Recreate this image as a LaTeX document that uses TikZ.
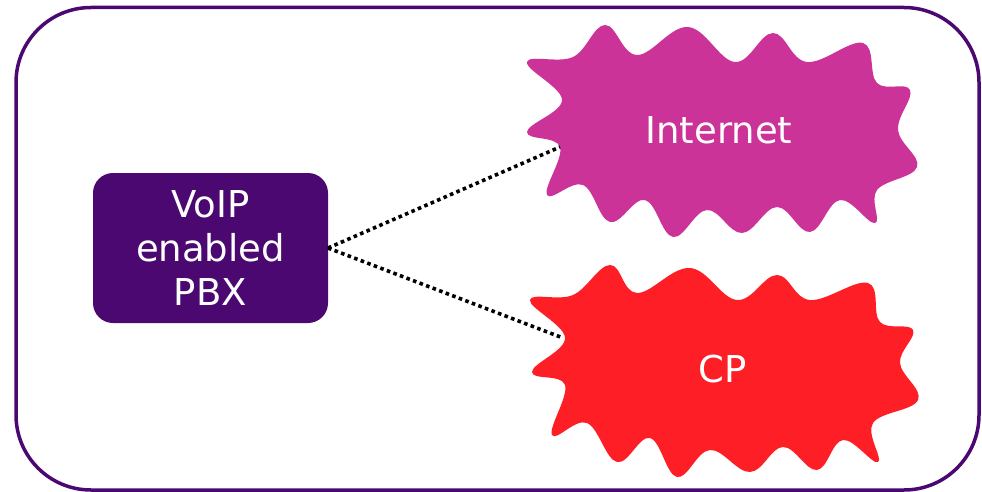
\documentclass[tikz,border=0pt]{standalone}
\usepackage{fontspec}
\setmainfont{DejaVu Sans}
\definecolor{pbxpurple}{RGB}{75,8,112}
\definecolor{netmagenta}{RGB}{204,51,153}
\definecolor{cpred}{RGB}{253,30,38}
\tikzset{
  frame/.style={draw=pbxpurple, line width=3.5pt, rounded corners=75pt},
  pbxbox/.style={fill=pbxpurple, rounded corners=20pt},
  label/.style={text=white, font=\fontsize{37}{44}\selectfont, align=center, inner sep=0pt},
  link/.style={draw=black, line width=3.6pt, dash pattern=on 3.6pt off 3.4pt}
}
\begin{document}
\begin{tikzpicture}[x=1pt,y=-1pt]
\useasboundingbox (0,0) rectangle (982,492);
\draw[frame] (16,7.5) rectangle (979,490);
% PBX box
\fill[pbxbox] (93,173) rectangle (328,323);
\node[label, anchor=center] (pbx) at (210.5,248) {VoIP\\enabled\\PBX};
\coordinate (pbxr) at (328,248);
% Internet cloud
\fill[netmagenta] plot[smooth cycle, tension=0.65] coordinates {
 (527,62) (562,100) (527,132) (560,147) (547,195) (583,185) (610,222) (645,200)
 (673,237) (707,210) (742,233) (777,207) (810,232) (840,200) (875,223) (877,190)
 (917,167) (898,130) (910,90) (877,83) (863,43) (807,62) (773,33) (735,62)
 (688,27) (637,55) (605,25) (573,57)};
\node[label, anchor=base] (internet) at (719,143) {Internet};
\coordinate (netin) at (560,147);
% CP cloud
\fill[cpred] plot[smooth cycle, tension=0.65] coordinates {
 (530,300) (565,338) (532,372) (565,385) (552,435) (587,423) (617,462) (650,438)
 (677,477) (710,450) (750,472) (783,447) (817,470) (843,440) (878,462) (873,423)
 (918,400) (900,363) (913,330) (880,322) (868,283) (810,300) (777,275) (737,300)
 (690,268) (637,293) (610,265) (573,295)};
\node[label, anchor=base] (cp) at (723,382) {CP};
\coordinate (cpin) at (563,338);
% links
\draw[link] (pbxr) -- (netin);
\draw[link] (pbxr) -- (cpin);
\end{tikzpicture}
\end{document}
